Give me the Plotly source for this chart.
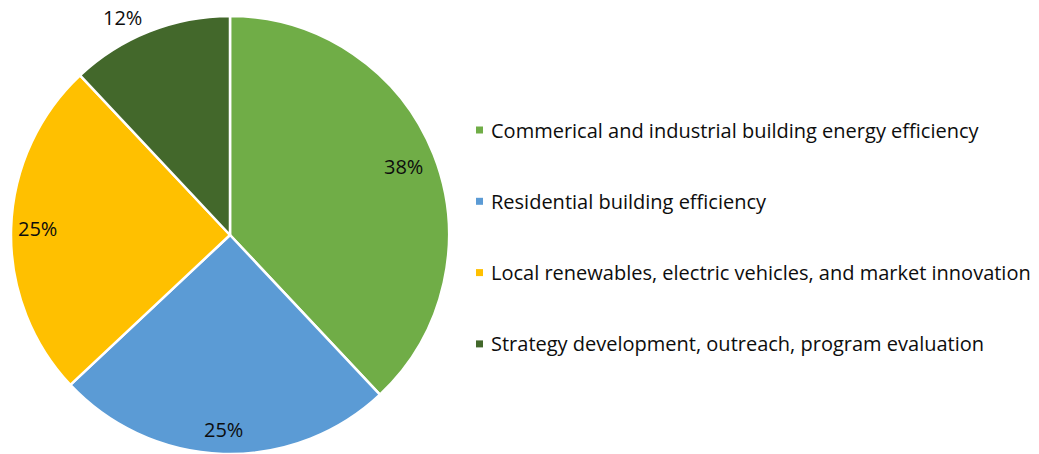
import math
import plotly.graph_objects as go

# Budget allocation by program area
categories = [
    "Commerical and industrial building energy efficiency",
    "Residential building efficiency",
    "Local renewables, electric vehicles, and market innovation",
    "Strategy development, outreach, program evaluation",
]
shares = [38, 25, 25, 12]
colors = ["#70AD47", "#5B9BD5", "#FFC000", "#43682B"]

W, H = 1039, 454
FONT = "Open Sans"

# Pie placement in pixels
cx, cy, r = 230, 235, 219

fig = go.Figure()
fig.add_trace(go.Pie(
    labels=categories,
    values=shares,
    sort=False,
    direction="clockwise",
    rotation=0,
    marker=dict(colors=colors, line=dict(color="white", width=2.5)),
    textinfo="none",
    hoverinfo="label+percent",
    showlegend=False,
    domain=dict(x=[(cx - r) / W, (cx + r) / W], y=[(H - cy - r) / H, (H - cy + r) / H]),
))

# Percentage labels, placed along each slice's mid-angle
label_radius = [0.85, 0.89, 0.88, 1.07]
label_anchor = ["center", "center", "center", "right"]
total = sum(shares)
start = 0.0
annotations = []
for v, rf, xa in zip(shares, label_radius, label_anchor):
    mid = math.radians((start + v / 2) / total * 360)
    start += v
    px = cx + rf * r * math.sin(mid)
    py = cy - rf * r * math.cos(mid)
    annotations.append(dict(
        x=px / W, y=1 - py / H, xref="paper", yref="paper",
        text=f"{round(v / total * 100)}%", showarrow=False,
        xanchor=xa, yanchor="middle",
        font=dict(family=FONT, size=20, color="#0d0d0d"),
    ))

# Legend drawn as swatches plus text rows
shapes = []
legend_x, legend_y0, legend_step, sw = 476, 130, 71.3, 7
for i, (name, col) in enumerate(zip(categories, colors)):
    y = legend_y0 + i * legend_step
    shapes.append(dict(
        type="rect", xref="paper", yref="paper",
        x0=legend_x / W, x1=(legend_x + sw) / W,
        y0=1 - (y + sw / 2) / H, y1=1 - (y - sw / 2) / H,
        fillcolor=col, line=dict(width=0),
    ))
    annotations.append(dict(
        x=(legend_x + 13) / W, y=1 - y / H, xref="paper", yref="paper",
        text=name, showarrow=False, xanchor="left", yanchor="middle",
        font=dict(family=FONT, size=20, color="#0d0d0d"),
    ))

fig.update_layout(
    width=W, height=H,
    margin=dict(l=0, r=0, t=0, b=0),
    paper_bgcolor="white",
    plot_bgcolor="white",
    annotations=annotations,
    shapes=shapes,
)

fig.write_html("out.html")
